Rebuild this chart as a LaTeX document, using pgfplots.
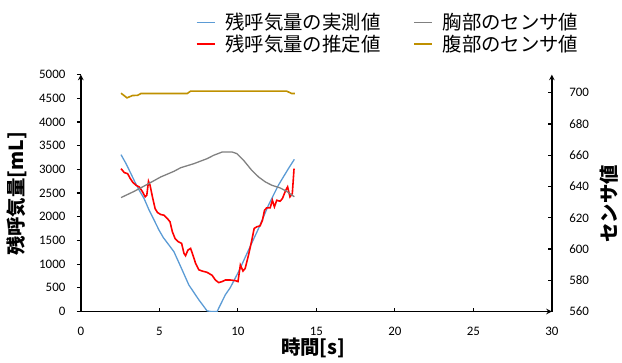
\documentclass[border=0pt]{standalone}
\usepackage{fontspec}
\usepackage{pgfplots}
\pgfplotsset{compat=1.18}
\setmainfont{Carlito}
\newfontfamily\jp{Noto Sans CJK JP}

\definecolor{measblue}{HTML}{5B9BD5}
\definecolor{estred}{HTML}{FF0000}
\definecolor{chestgray}{HTML}{808080}
\definecolor{abdgold}{HTML}{BF9000}

\pgfplotsset{
  common/.style={
    scale only axis,
    width=473.7pt, height=238.3pt,
    xmin=0, xmax=30,
    axis line style={-, black, line width=1.5pt},
    tick style={black, line width=1.2pt},
    major tick length=4pt,
    tick label style={font=\fontsize{13}{13}\selectfont},
    /pgf/number format/assume math mode=true,
    /pgf/number format/1000 sep={},
  },
}

\begin{document}
\begin{tikzpicture}
% left axis: exhaled volume
\begin{axis}[common,
  axis x line=bottom, axis y line=left,
  ymin=0, ymax=5000, ytick={0,500,...,5000},
  xtick={0,5,...,30},
  xtick align=inside, ytick align=outside,
  xticklabel style={yshift=-12pt},
  yticklabel style={xshift=-8pt},
  xlabel={\jp\bfseries 時間[s]},
  ylabel={\jp\bfseries 残呼気量[mL]},
  xlabel style={font=\fontsize{19.5}{20}\selectfont, at={(axis description cs:0.4934,-0.154)}, anchor=center},
  ylabel style={font=\fontsize{19.5}{20}\selectfont, at={(axis description cs:-0.1357,0.496)}, anchor=center},
  legend columns=2,
  legend cell align=left,
  legend image code/.code={\draw[#1] (0pt,0pt) -- (18pt,0pt);},
  legend style={draw=none, fill=none, inner sep=0pt, outer sep=0pt,
    at={(axis description cs:0.2442,1.259)}, anchor=north west,
    font=\jp\fontsize{19.5}{20}\selectfont,
    nodes={inner sep=0pt},
    row sep=4pt,
    /tikz/every odd column/.append style={column sep=10pt},
    /tikz/every even column/.append style={column sep=33pt}},
]
\addlegendimage{measblue, line width=1.3pt}
\addlegendentry{残呼気量の実測値}
\addlegendimage{chestgray, line width=1.3pt}
\addlegendentry{胸部のセンサ値}
\addlegendimage{estred, line width=1.6pt}
\addlegendentry{残呼気量の推定値}
\addlegendimage{abdgold, line width=1.6pt}
\addlegendentry{腹部のセンサ値}

% measured residual volume
\addplot[measblue, line width=1.3pt, forget plot] coordinates {
(2.56,3310) (2.88,3120) (3.19,2910) (3.44,2735) (3.72,2558) (4.03,2384)
(4.35,2138) (4.67,1927) (4.98,1717) (5.26,1557) (5.62,1400) (5.93,1262)
(6.36,947) (6.88,560) (7.52,245) (8.04,14) (8.30,0) (8.68,0)
(9.20,351) (9.52,505) (10.05,842) (10.68,1296) (11.32,1753) (11.95,2243)
(12.58,2664) (13.22,3015) (13.60,3211)
};
% estimated residual volume
\addplot[estred, line width=1.6pt, forget plot] coordinates {
(2.56,3015) (2.77,2931) (2.98,2910) (3.15,2805) (3.29,2735) (3.51,2664)
(3.72,2630) (3.93,2525) (4.10,2420) (4.20,2453) (4.31,2748) (4.41,2664)
(4.56,2420) (4.73,2173) (4.88,2089) (5.09,2047) (5.30,2032) (5.51,1963)
(5.68,1893) (5.83,1683) (6.00,1542) (6.21,1473) (6.42,1437) (6.57,1227)
(6.67,1178) (6.82,1296) (6.99,1332) (7.14,1191) (7.31,1016) (7.52,880)
(7.73,854) (8.04,827) (8.36,765) (8.57,665) (8.78,610) (8.99,631)
(9.21,665) (9.52,665) (9.84,652) (10.01,631) (10.16,981) (10.33,854)
(10.47,911) (10.68,1191) (10.89,1506) (11.04,1753) (11.21,1788) (11.42,1809)
(11.57,1927) (11.70,2138) (11.84,2188) (12.06,2188) (12.20,2348) (12.33,2209)
(12.48,2348) (12.69,2327) (12.84,2384) (13.05,2558) (13.17,2630) (13.32,2420)
(13.47,2489) (13.58,3015)
};
\end{axis}

% right axis: sensor readings
\begin{axis}[common,
  axis x line=none, axis y line=right,
  ymin=560, ymax=711.6, ytick={560,580,...,700},
  xtick=\empty,
  ytick align=inside,
  yticklabel style={xshift=14pt},
  ylabel={\jp\bfseries センサ値},
  ylabel style={font=\fontsize{19.5}{20}\selectfont, at={(axis description cs:1.1224,0.4545)}, anchor=center, rotate=0},
]
% chest sensor
\addplot[chestgray, line width=1.3pt] coordinates {
(2.56,632.9) (3.40,636.9) (4.24,641.4) (5.09,646.1) (5.93,649.7) (6.36,652.0)
(7.20,654.6) (8.04,657.8) (8.47,660.0) (8.99,662.0) (9.63,662.1) (9.94,661.0)
(10.37,656.7) (10.89,650.3) (11.32,646.1) (11.74,643.0) (12.16,640.8)
(12.69,639.1) (13.11,636.9) (13.60,633.4)
};
% abdomen sensor
\addplot[abdgold, line width=1.6pt] coordinates {
(2.56,699.7) (2.94,696.7) (3.29,698.2) (3.61,698.3) (3.83,699.5) (6.78,699.5)
(6.99,701.0) (13.11,701.0) (13.43,699.5) (13.64,699.5)
};
\end{axis}

% page frame
\path (current axis.south west) ++(-81.3pt,-51.7pt) rectangle ++(622pt,365pt);
\end{tikzpicture}
\end{document}
